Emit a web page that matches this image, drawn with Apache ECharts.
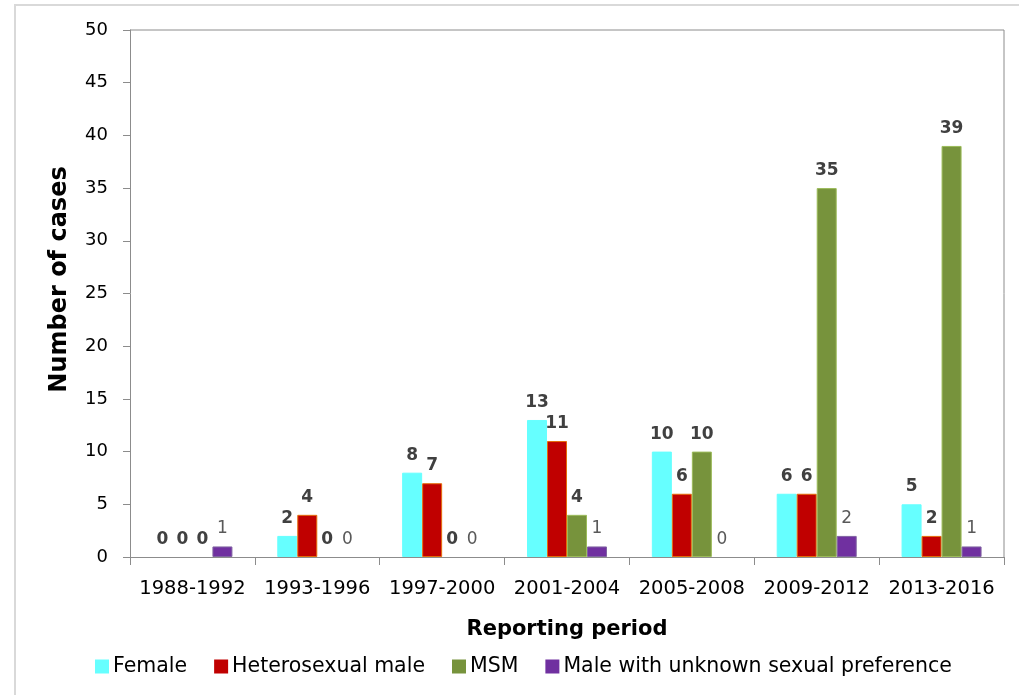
<!DOCTYPE html>
<html><head><meta charset="utf-8">
<script src="https://cdn.jsdelivr.net/npm/echarts@6/dist/echarts.min.js"></script>
<style>html,body{margin:0;padding:0;background:#fff}#c{width:1019px;height:695px}</style>
</head><body><div id="c"></div>
<script>
const categories = ['1988-1992','1993-1996','1997-2000','2001-2004','2005-2008','2009-2012','2013-2016'];
const female = [0,2,8,13,10,6,5];
const heteroMale = [0,4,7,11,6,6,2];
const msm = [0,0,0,4,10,35,39];
const unknownMale = [1,0,0,1,0,2,1];
const yTicks = {min:0, max:50, interval:5};

const FONT = 'DejaVu Sans';
function mk(name, data, color, border, bold){
  return {
    name, type:'bar', barWidth:20, barGap:'0%',
    data: data.map(v => ({value:v, itemStyle:{borderWidth: v ? 1 : 0}})),
    itemStyle:{color, borderColor:border},
    label:{show:true, position:'top', distance:9, fontFamily:FONT, fontSize:17,
      fontWeight: bold?'bold':'normal', color: bold?'#404040':'#595959'}
  };
}
const chart = echarts.init(document.getElementById('c'), null, {renderer:'canvas'});
chart.setOption({
  animation:false,
  backgroundColor:'#fff',
  graphic:[{type:'rect', shape:{x:15,y:5,width:1010,height:700}, style:{fill:'none', stroke:'#d9d9d9', lineWidth:2}, silent:true},
           {type:'line', shape:{x1:1004,y1:30,x2:1004,y2:557}, style:{stroke:'#8c8c8c', lineWidth:1}, z:10},
           {type:'line', shape:{x1:130,y1:30,x2:1004,y2:30}, style:{stroke:'#8c8c8c', lineWidth:1}, z:10}],
  grid:{left:130, right:15, top:30, bottom:138, containLabel:false},
  legend:{bottom:13, left:90, itemWidth:14, itemHeight:14, itemGap:27, icon:'rect',
    itemStyle:{borderWidth:0},
    textStyle:{fontFamily:FONT, fontSize:20.5, color:'#000', padding:[0,0,0,-1]},
    data:['Female','Heterosexual male','MSM','Male with unknown sexual preference']},
  xAxis:{type:'category', data:categories,
    name:'Reporting period', nameLocation:'middle', nameGap:62,
    nameTextStyle:{fontFamily:FONT, fontSize:21, fontWeight:'bold', color:'#000'},
    axisLine:{lineStyle:{color:'#8c8c8c'}},
    axisTick:{show:true, length:8, lineStyle:{color:'#8c8c8c'}},
    axisLabel:{interval:0, fontFamily:FONT, fontSize:19.5, color:'#000', margin:22}},
  yAxis:{type:'value', min:yTicks.min, max:yTicks.max, interval:yTicks.interval,
    name:'Number of cases', nameLocation:'middle', nameGap:58, nameRotate:90,
    nameTextStyle:{fontFamily:FONT, fontSize:24, fontWeight:'bold', color:'#000', padding:[0,0,0,28]},
    axisLine:{show:true, lineStyle:{color:'#8c8c8c'}},
    axisTick:{show:true, length:7, lineStyle:{color:'#8c8c8c'}},
    splitLine:{show:false},
    axisLabel:{fontFamily:FONT, fontSize:18, color:'#000', margin:22}},
  series:[
    mk('Female', female, '#66FFFF', '#66FFFF', true),
    mk('Heterosexual male', heteroMale, '#C00000', '#E46C0A', true),
    mk('MSM', msm, '#77933C', '#9BBB59', true),
    mk('Male with unknown sexual preference', unknownMale, '#7030A0', '#8064A2', false)
  ]
});
</script></body></html>
